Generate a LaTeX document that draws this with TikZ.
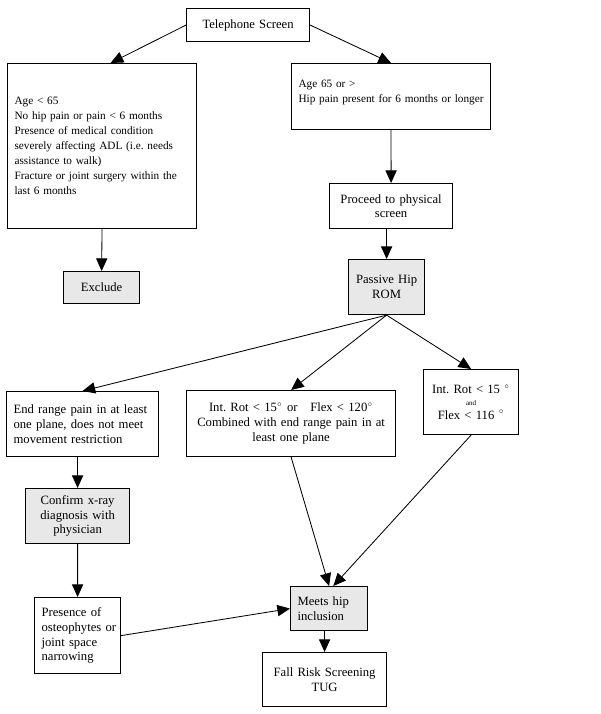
\documentclass[tikz,border=0pt]{standalone}
\usepackage{fontspec}
\setmainfont{Liberation Serif}
\usetikzlibrary{arrows.meta,calc}
\newcommand\degmark{\ensuremath{^{\scriptscriptstyle\circ}}}

\begin{document}
\begin{tikzpicture}[x=0.025cm,y=-0.025cm,
    box/.style={draw,line width=0.8pt,inner xsep=5pt,inner ysep=2pt,anchor=north west,
      font=\fontsize{9}{10.5}\selectfont},
    greybox/.style={box,fill=black!9},
    small text/.style={font=\fontsize{8}{10.7}\selectfont},
    flow/.style={-{Triangle[length=9pt,width=8pt]},line width=0.6pt}]
\useasboundingbox (0,0) rectangle (600,714);
% screening
\node[box,text width=77.5pt,minimum height=23.5pt,align=center] (tel) at (186,8) {Telephone Screen};
\node[box,small text,text width=124.4pt,minimum height=117.4pt,align=left] (crit) at (7,63)
  {Age < 65\\\mbox{No hip pain or pain < 6 months}\\Presence of medical condition\\\mbox{severely affecting ADL (i.e.\ needs}\\assistance to walk)\\\mbox{Fracture or joint surgery within the}\\last 6 months};
\node[box,small text,text width=131.5pt,minimum height=46.9pt,align=left] (age) at (291,63)
  {Age 65 or >\\\mbox{Hip pain present for 6 months or longer}\\[-3.5pt]\mbox{}};
\node[box,text width=77.5pt,minimum height=32pt,align=center] (proceed) at (329,183) {Proceed to physical\\screen};
\node[greybox,text width=44.1pt,minimum height=22.8pt,align=center] (excl) at (63,271) {Exclude};
\node[greybox,text width=44.1pt,minimum height=39.1pt,align=center] (rom) at (348,259) {Passive Hip\\ROM};
% range of motion outcomes
\node[box,text width=98.1pt,minimum height=46.2pt,align=left] (endr) at (6,391)
  {\mbox{End range pain in at least}\\\mbox{one plane, does not meet}\\movement restriction};
\node[box,text width=138.7pt,minimum height=46.9pt,align=center] (mid) at (186,390)
  {\mbox{Int.\ Rot < 15\degmark{} or\ \ \ Flex < 120\degmark}\\\mbox{Combined with end range pain in at}\\least one plane};
\node[box,text width=57.6pt,minimum height=46.2pt,align=center] (small) at (423,369)
  {Int.\ Rot < 15 \degmark\\[-2pt]{\tiny and}\\[-1pt]Flex < 116 \degmark};
\node[greybox,text width=64pt,minimum height=39.1pt,align=center] (confirm) at (25,488)
  {Confirm x-ray\\diagnosis with\\physician};
\node[box,text width=51.2pt,minimum height=54.1pt,align=left] (pres) at (34,597)
  {Presence of\\\mbox{osteophytes or}\\joint space\\narrowing};
\node[greybox,text width=44.8pt,minimum height=31.3pt,align=left] (meets) at (290,586) {Meets hip\\inclusion};
\node[box,text width=78.2pt,minimum height=38.4pt,align=center] (fall) at (262,652) {\mbox{Fall Risk Screening}\\TUG};
% connectors
\draw[flow] (tel.west) -- ($(crit.north west)!0.545!(crit.north east)$);
\draw[flow] (tel.east) -- (age.north);
\draw[flow] (crit.south) -- (excl.north);
\draw[flow] (age.south) -- (proceed.north);
\draw[flow] (proceed.south -| rom.north) -- (rom.north);
\draw[flow] (rom.south) -- (endr.north);
\draw[flow] (rom.south) -- (mid.north);
\draw[flow] (rom.south) -- (small.north);
\draw[flow] (endr.south -| confirm.north) -- (confirm.north);
\draw[flow] (confirm.south) -- (pres.north);
\draw[flow] (pres.east) -- (meets.west);
\draw[flow] (mid.south) -- (meets.north);
\draw[flow] (small.south) -- ([xshift=3pt]meets.north);
\draw[flow] (meets.south -| fall.north) -- (fall.north);
\end{tikzpicture}
\end{document}
